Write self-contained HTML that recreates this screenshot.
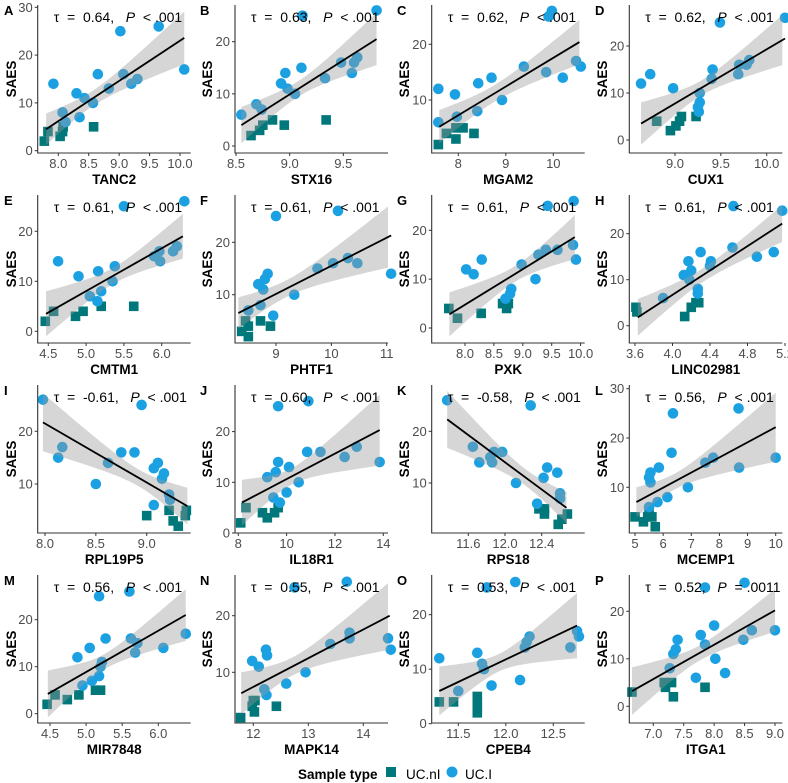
<!DOCTYPE html>
<html><head><meta charset="utf-8"><style>
html,body{margin:0;padding:0;background:#fff;}
svg{display:block;font-family:"Liberation Sans",sans-serif;}
</style></head><body>
<svg id="chart" width="788" height="783" viewBox="0 0 788 783" xmlns="http://www.w3.org/2000/svg">
<g id="panels"></g>
<g id="legend">
<text x="298" y="779" font-size="13.5" font-weight="bold" fill="#000">Sample type</text>
<rect x="386" y="767" width="10" height="10" fill="#00777a"/>
<text x="406" y="779" font-size="13.5" fill="#000">UC.nI</text>
<circle cx="452" cy="772" r="5.5" fill="#1ba1e2"/>
<text x="465" y="779" font-size="13.5" fill="#000">UC.I</text>
</g>
</svg>
<script>
const panelLetters = ["A","B","C","D","E","F","G","H","I","J","K","L","M","N","O","P"];
const genes = ["TANC2","STX16","MGAM2","CUX1","CMTM1","PHTF1","PXK","LINC02981","RPL19P5","IL18R1","RPS18","MCEMP1","MIR7848","MAPK14","CPEB4","ITGA1"];
const statLabels = ["0.64","0.63","0.62","0.62","0.61","0.61","0.61","0.61","-0.61","0.60","-0.58","0.56","0.56","0.55","0.53","0.52"];
const pLabels = ["< .001","< .001","< .001","< .001","< .001","< .001","< .001","< .001","< .001","< .001","< .001","< .001","< .001","< .001","< .001","= .0011"];
const xTicks = [[8,8.5,9,9.5,10],[8.5,9,9.5],[8,9,10],[9,9.5,10],[4.5,5,5.5,6],[9,10,11],[8,8.5,9,9.5,10],[3.6,4,4.4,4.8,5.2],[8,8.5,9],[8,10,12,14],[11.6,12,12.4],[5,6,7,8,9,10],[4.5,5,5.5,6],[12,13,14],[11.5,12,12.5],[7,7.5,8,8.5,9]];
const xTickText = [["8.0","8.5","9.0","9.5","10.0"],["8.5","9.0","9.5"],["8","9","10"],["9.0","9.5","10.0"],["4.5","5.0","5.5","6.0"],["9","10","11"],["8.0","8.5","9.0","9.5","10.0"],["3.6","4.0","4.4","4.8","5.2"],["8.0","8.5","9.0"],["8","10","12","14"],["11.6","12.0","12.4"],["5","6","7","8","9","10"],["4.5","5.0","5.5","6.0"],["12","13","14"],["11.5","12.0","12.5"],["7.0","7.5","8.0","8.5","9.0"]];
const yTicks = [[0,10,20,30],[0,10,20],[10,20],[0,10,20],[0,10,20],[10,20],[0,10,20],[0,10,20],[10,20],[0,10,20],[10,20],[10,20,30],[0,10,20],[10,20],[0,10,20],[0,10,20]];
const ciX = [
[7.92,8.07,8.12,8.3,8.35,8.43,8.57,8.65,8.83,9.02,9.07,9.2,9.3,9.65,10.07],
[8.55,8.69,8.74,8.92,8.96,8.98,9.05,9.11,9.12,9.33,9.48,9.58,9.6,9.63,9.81],
[7.58,7.58,7.93,7.97,8.42,8.4,8.7,8.92,9.38,9.85,9.9,9.97,10.2,10.48,10.58],
[8.63,8.73,8.98,9.26,9.25,9.27,9.27,9.4,9.41,9.49,9.69,9.7,9.78,9.81,10.2],
[4.63,4.9,5.05,5.15,5.16,5.2,5.35,5.38,5.5,5.9,5.97,5.98,6.15,6.2,6.3],
[8.5,8.68,8.72,8.77,8.8,8.85,8.95,9.0,9.33,9.75,10.03,10.12,10.3,10.47,11.08],
[8.02,8.15,8.29,8.7,8.78,8.8,8.98,9.22,9.27,9.4,9.43,9.6,9.87,9.88,9.92],
[3.9,4.12,4.17,4.2,4.18,4.27,4.27,4.3,4.4,4.41,4.64,4.65,4.9,5.08,5.17],
[7.98,8.13,8.17,8.5,8.62,8.75,8.88,8.95,9.07,9.07,9.11,9.15,9.17,9.22,9.23],
[9.2,9.45,9.55,9.65,9.65,9.72,10.0,10.1,10.5,10.85,10.9,11.4,12.4,12.9,13.85],
[11.37,11.65,11.72,11.84,11.86,11.88,11.97,12.12,12.28,12.35,12.42,12.46,12.57,12.6,12.6],
[5.5,5.55,5.55,5.5,5.8,5.85,6.15,6.3,6.35,6.88,7.5,7.78,8.68,8.7,10],
[4.88,4.95,5.05,5.08,5.18,5.18,5.2,5.22,5.27,5.6,5.62,5.68,5.71,6.07,6.38],
[11.98,12.1,12.2,12.24,12.23,12.25,12.6,12.75,12.95,13.4,13.7,13.75,13.75,14.45,14.5],
[11.3,11.5,11.7,11.75,11.77,11.8,11.85,12.1,12.15,12.2,12.22,12.25,12.68,12.75,12.77],
[7.27,7.33,7.37,7.4,7.7,7.78,7.85,7.85,8.0,8.02,8.18,8.48,8.5,8.62,9.0]];
const ciY = [
[14,8,6,12,7,11,10,16,13,25,16,14,15,26,17],
[6,8,7,12,14,11,10,15,25,13,16,14,16,17,26],
[12,6,11,7,13,8,14,10,16,15,25,26,14,17,16],
[12,14,11,6,7,8,10,13,15,25,14,16,16,17,26],
[14,11,7,6,12,8,10,13,25,15,16,14,16,17,26],
[7,12,8,11,13,14,6,25,10,15,16,26,17,16,14],
[12,11,14,6,7,8,13,10,15,16,25,16,17,26,14],
[6,11,14,12,10,7,8,16,13,14,17,26,15,16,25],
[26,15,17,10,14,16,16,25,6,13,14,11,12,8,7],
[11,7,12,14,25,6,8,13,10,16,26,16,15,17,14],
[26,17,14,15,14,16,16,10,25,6,11,13,12,7,8],
[12,13,11,6,7,14,8,17,25,10,15,16,26,14,16],
[12,6,14,7,25,8,10,11,16,26,16,13,15,14,17],
[12,11,7,6,14,13,8,25,10,15,26,16,17,16,14],
[12,6,13,11,10,25,7,26,8,14,15,16,14,17,16],
[8,11,12,14,6,15,13,25,17,10,7,14,26,16,16]];
const sqX = [
[7.77,7.83,8.03,8.07,8.08,8.58],[8.64,8.72,8.75,8.84,8.95,9.34],[7.58,7.75,7.95,7.95,8.1,8.33],[8.8,8.95,9.01,9.05,9.07,9.23],
[4.46,4.57,4.86,4.96,5.2,5.63],[8.38,8.45,8.5,8.5,8.72,8.9],[7.72,7.87,8.28,8.65,8.72,8.75],[3.61,3.62,4.13,4.2,4.25,4.28],
[9.0,9.22,9.26,9.31,9.38,9.39],[8.1,8.32,9.0,9.2,9.5,9.65],[12.37,12.43,12.43,12.58,12.62,12.68],[5.0,5.3,5.45,5.5,5.6,5.72],
[4.46,4.57,4.74,4.9,5.13,5.2],[11.77,11.98,12.0,12.02,12.03,12.42],[11.3,11.45,11.7,11.7,11.7,11.7],[6.65,7.18,7.2,7.3,7.33,7.85]];
const sqY = [
[2,4,3,4,5,5],[2,3,4,5,4,5],[2,4,3,5,5,4],[4,2,3,4,5,5],
[2,4,3,4,5,5],[3,5,2,4,5,4],[4,2,3,5,4,5],[4,3,2,4,5,5],
[4,5,3,2,4,5],[2,5,4,3,4,5],[5,5,4,2,3,4],[4,3,4,5,4,2],
[2,4,3,4,5,5],[2,4,5,3,5,4],[4,4,5,3,2,4],[3,5,4,5,2,4]];
const fitLines = [
[7.8,4.5,10.07,23.6],[8.55,4,9.81,20.5],[7.6,5.2,10.55,20.4],[8.63,3.5,10.2,21.6],
[4.47,3.5,6.28,19],[8.32,6.5,11.08,21.3],[7.73,2.8,9.9,18.6],[3.63,1.8,5.17,22.2],
[7.98,21.7,9.4,5.8],[8.15,6,13.85,20.3],[11.37,22.3,12.67,5.2],[5.05,7,10,22.2],
[4.47,4.2,6.38,21],[11.78,6.3,14.48,20],[11.3,6,12.75,18],[6.65,3.2,9.0,20.2]];
const bandHW = [
[3.3,1.6,5.5],[3.5,1.5,5],[3,1.5,4],[4.5,1.6,5.5],
[4.5,1.6,4.5],[3,1.6,6],[4.5,1.6,4.5],[4,1.5,4],
[5.5,1.6,3.5],[4.5,1.6,7],[5.5,1.6,3],[3,1.6,7],
[5,1.6,5.5],[3.7,1.6,6],[4.5,1.6,6],[5,1.6,4.5]];

const colAxisX = [37.7,235,431.7,629.3];
const colOrigin = [3,199,396,594];
const rowBottom = [153,343,533,723];
const plotW = 153, plotH = 148;
const xCal = [[8,58.3,10,180],[8.5,236,9.5,343.3],[8,458.3,10,553.3],[9,675,10,766.7],
[4.5,48.3,6,161.7],[9,276,11,386.7],[8,465,9.5,551.7],[3.6,635,4.4,710],
[8,45,9,146.7],[8,238.3,14,383.3],[11.6,468.3,12.4,541.7],[5,635,10,775.7],
[4.5,50,6,158.3],[12,253.3,14,363.3],[11.5,458.3,12.5,553.3],[7,653.3,9,775]];
const yCal = [[0,150.7,30,7.3],[0,146,20,41.7],[10,100,20,44.3],[0,140,20,46],
[0,331.3,20,231.3],[10,294.7,20,242.3],[0,328,20,230.3],[0,325.7,20,233.7],
[10,484,20,431.3],[0,533,10,482.3],[10,483,20,431.3],[10,487.3,20,438],
[0,713.7,20,619.7],[10,672.3,20,615.7],[0,723.7,20,614.7],[0,706.3,20,611.3]];

const NS = "http://www.w3.org/2000/svg";
const root = document.getElementById("panels");
function mk(tag, attrs, parent){const e=document.createElementNS(NS,tag);for(const k in attrs)e.setAttribute(k,attrs[k]);parent.appendChild(e);return e;}
function lin(c){const s=(c[3]-c[1])/(c[2]-c[0]);return v=>c[1]+(v-c[0])*s;}

for(let i=0;i<16;i++){
  const col=i%4,row=Math.floor(i/4);
  const ax=colAxisX[col], bot=rowBottom[row], top=bot-plotH, right=ax+plotW;
  const X=lin(xCal[i]), Y=lin(yCal[i]);
  const g=mk("g",{},root);
  
  
  const cp=mk("clipPath",{id:"cp"+i},g);
  mk("rect",{x:ax,y:top,width:plotW,height:plotH},cp);
  const pts=mk("g",{},g);
  
  
  for(let k=0;k<sqX[i].length;k++){
    const r=mk("rect",{x:X(sqX[i][k])-4.8,y:Y(sqY[i][k])-4.8,width:9.6,height:9.6,fill:"#00777a"},pts);
    
    
  }
  for(let k=0;k<ciX[i].length;k++){
    const c=mk("circle",{cx:X(ciX[i][k]),cy:Y(ciY[i][k]),r:5.3,fill:"#1ba1e2"},pts);
    
    
  }
  const [x1,y1,x2,y2]=fitLines[i];
  const allX=ciX[i].concat(sqX[i]);
  const xc=allX.reduce((a,b)=>a+b,0)/allX.length;
  const [hl,hm,hr]=bandHW[i];
  const cl=(hl*hl-hm*hm)/Math.pow(x1-xc,2), cr=(hr*hr-hm*hm)/Math.pow(x2-xc,2);
  const up=[],lo=[];
  for(let s=0;s<=40;s++){
    const x=x1+(x2-x1)*s/40;const yv=y1+(y2-y1)*(x-x1)/(x2-x1);
    const c=x<xc?cl:cr;const hw=Math.sqrt(hm*hm+c*(x-xc)*(x-xc));
    up.push(X(x).toFixed(2)+","+Y(yv+hw).toFixed(2));lo.unshift(X(x).toFixed(2)+","+Y(yv-hw).toFixed(2));
  }
  const band=mk("polygon",{points:up.concat(lo).join(" "),fill:"#999999","fill-opacity":"0.4","clip-path":"url(#cp"+i+")"},g);
  
  
  const ln=mk("line",{x1:X(x1),y1:Y(y1),x2:X(x2),y2:Y(y2),stroke:"#000","stroke-width":1.8},g);
  
  
  const axes=mk("path",{d:`M${ax},${top}V${bot}H${right}`,fill:"none",stroke:"#333","stroke-width":1.1},g);
  
  
  yTicks[i].forEach(v=>{
    mk("line",{x1:ax-3,x2:ax,y1:Y(v),y2:Y(v),stroke:"#333"},g);
    const t=mk("text",{x:ax-5,y:Y(v)+4.5,"text-anchor":"end","font-size":"13",fill:"#4d4d4d"},g);
    t.textContent=v;
    
    
  });
  xTicks[i].forEach((v,k)=>{
    mk("line",{x1:X(v),x2:X(v),y1:bot,y2:bot+3,stroke:"#333"},g);
    const t=mk("text",{x:X(v),y:bot+15,"text-anchor":"middle","font-size":"13",fill:"#4d4d4d"},g);
    t.textContent=xTickText[i][k];
    
    
  });
  const xt=mk("text",{x:ax+plotW/2,y:bot+31,"text-anchor":"middle","font-size":"13.5","font-weight":"bold",fill:"#000"},g);
  xt.textContent=genes[i];
  
  
  const yt=mk("text",{x:0,y:0,"text-anchor":"middle","font-size":"13.5","font-weight":"bold",fill:"#000",transform:`translate(${colOrigin[col]+13},${top+plotH/2}) rotate(-90)`},g);
  yt.textContent="SAES";
  
  
  const pl=mk("text",{x:colOrigin[col]+1,y:top+10,"font-size":"13","font-weight":"bold",fill:"#000"},g);
  pl.textContent=panelLetters[i];
  
  
  const st=mk("text",{x:ax+16,y:top+17,"font-size":"14",fill:"#000",style:"white-space:pre"},g);
  
  
  const a=mk("tspan",{style:"white-space:pre"},st);a.textContent="\u03c4  =  "+statLabels[i]+",   ";
  const b=mk("tspan",{"font-style":"italic",style:"white-space:pre"},st);b.textContent="P";
  const c2=mk("tspan",{style:"white-space:pre"},st);c2.textContent="  "+pLabels[i];
}
</script>
</body></html>
